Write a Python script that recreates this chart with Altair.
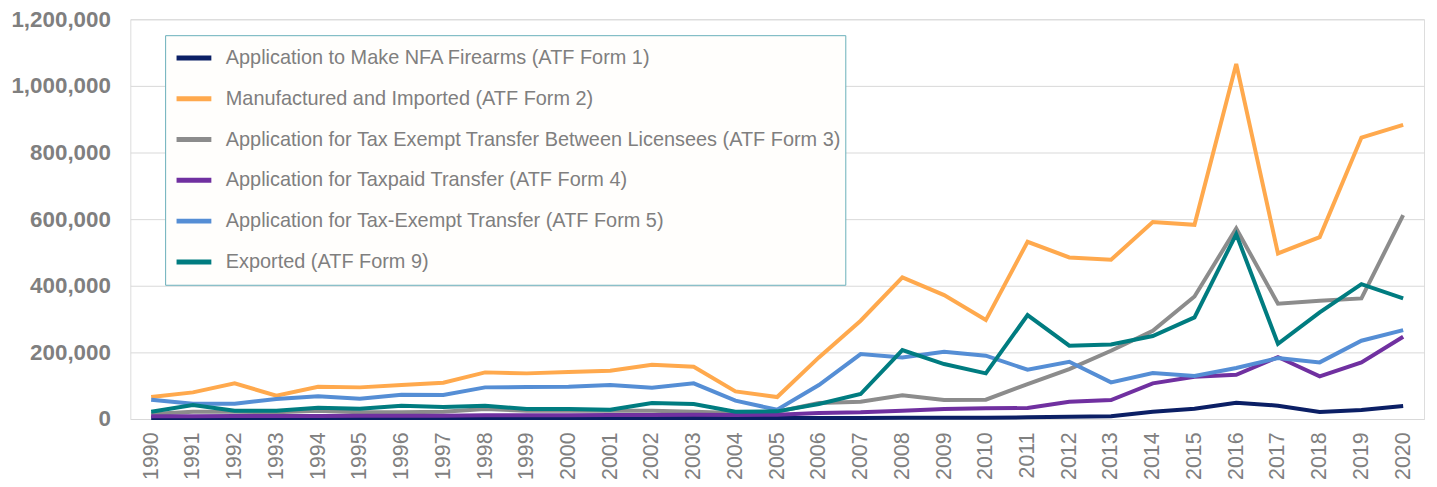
import altair as alt
import pandas as pd

years = list(range(1990, 2021))

series_names = [
    "Application to Make NFA Firearms (ATF Form 1)",
    "Manufactured and Imported (ATF Form 2)",
    "Application for Tax Exempt Transfer Between Licensees (ATF Form 3)",
    "Application for Taxpaid Transfer (ATF Form 4)",
    "Application for Tax-Exempt Transfer (ATF Form 5)",
    "Exported (ATF Form 9)",
]
series_colors = ["#0B1F65", "#FFA94D", "#8C8C8C", "#7030A0", "#558ED5", "#007C80"]

form1 = [3000, 3000, 3000, 3000, 3000, 3000, 3000, 3000, 3000, 3000, 3000, 3000, 3000, 3000, 3000, 3000,
         3000, 3000, 4000, 4000, 4000, 5000, 7000, 8000, 22000, 31000, 49000, 40000, 21000, 27000, 39000]
form2 = [66000, 80000, 107000, 70000, 97000, 95000, 102000, 109000, 140000, 137000, 141000, 145000, 163000, 157000, 83000, 66000,
         185000, 295000, 425000, 372000, 297000, 532000, 485000, 478000, 591000, 583000, 1066000, 497000, 546000, 845000, 883000]
form3 = [15000, 22000, 22000, 20000, 25000, 20000, 20000, 22000, 30000, 25000, 25000, 25000, 25000, 22000, 18000, 22000,
         48000, 52000, 71000, 57000, 58000, 105000, 150000, 205000, 265000, 368000, 572000, 346000, 355000, 362000, 612000]
form4 = [8000, 8000, 9000, 9000, 9000, 10000, 10000, 10000, 11000, 11000, 11000, 12000, 12000, 13000, 12000, 13000,
         18000, 20000, 25000, 30000, 32000, 33000, 52000, 57000, 107000, 127000, 133000, 186000, 128000, 170000, 247000]
form5 = [58000, 46000, 46000, 60000, 68000, 61000, 73000, 72000, 95000, 96000, 97000, 102000, 94000, 107000, 55000, 28000,
         102000, 195000, 185000, 202000, 190000, 148000, 172000, 110000, 138000, 129000, 153000, 183000, 170000, 235000, 267000]
form9 = [22000, 42000, 25000, 25000, 34000, 31000, 40000, 36000, 40000, 30000, 30000, 28000, 48000, 45000, 22000, 23000,
         45000, 75000, 207000, 165000, 137000, 312000, 220000, 224000, 249000, 305000, 555000, 226000, 320000, 405000, 362000]

all_values = [form1, form2, form3, form4, form5, form9]

rows = []
for idx, (name, vals) in enumerate(zip(series_names, all_values)):
    for y, v in zip(years, vals):
        rows.append({"Year": str(y), "Series": name, "Value": v, "order": idx})
df = pd.DataFrame(rows)

chart = (
    alt.Chart(df)
    .mark_line(strokeWidth=4, strokeJoin="miter")
    .encode(
        x=alt.X(
            "Year:N",
            title=None,
            scale=alt.Scale(type="point", padding=0.5),
            axis=alt.Axis(
                labelAngle=270,
                labelFontSize=21.5,
                labelColor="#808080",
                labelFont="Liberation Sans",
                labelPadding=13,
                ticks=False,
                domain=False,
                grid=False,
                labelBaseline="middle",
                labelAlign="right",
            ),
        ),
        y=alt.Y(
            "Value:Q",
            title=None,
            scale=alt.Scale(domain=[0, 1200000], nice=False),
            axis=alt.Axis(
                values=[0, 200000, 400000, 600000, 800000, 1000000, 1200000],
                format=",d",
                labelFontSize=22.5,
                labelFontWeight="bold",
                labelColor="#7F7F7F",
                labelFont="Liberation Sans",
                labelPadding=20,
                ticks=False,
                domain=False,
                gridColor="#D9D9D9",
                gridWidth=1,
            ),
        ),
        color=alt.Color(
            "Series:N",
            sort=series_names,
            scale=alt.Scale(domain=series_names, range=series_colors),
            legend=alt.Legend(
                title=" ",
                titleOrient="bottom",
                titleFontSize=8,
                titlePadding=2,
                orient="none",
                legendX=35,
                legendY=16,
                symbolType="stroke",
                symbolStrokeWidth=5,
                symbolSize=1225,
                symbolOffset=6,
                labelFontSize=20,
                labelFont="Liberation Sans",
                labelColor="#7F7F7F",
                labelOffset=12,
                labelLimit=900,
                rowPadding=11,
                padding=3,
                strokeColor="#6AAFBA",
                fillColor="#FFFEFC",
            ),
        ),
        order=alt.Order("order:Q"),
    )
    .properties(
        width=1301,
        height=402,
        autosize=alt.AutoSizeParams(type="none"),
        padding={"left": 123, "top": 10, "right": 5, "bottom": 60},
    )
    .configure_view(fill="#FFFCF8", stroke=None)
    .configure(background="#FFFFFF")
)

chart.save("out.html", embed_options={"renderer": "svg", "actions": False})
